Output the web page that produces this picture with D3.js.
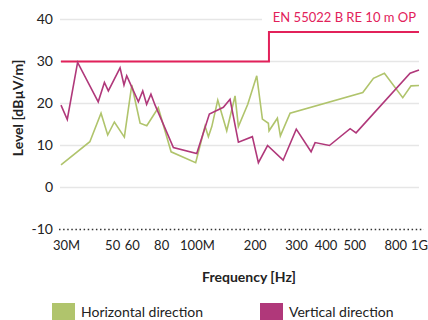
<!DOCTYPE html>
<html>
<head>
<meta charset="utf-8">
<script src="https://cdn.jsdelivr.net/npm/d3@7"></script>
<style>
  html, body { margin: 0; padding: 0; background: #fff; }
  svg { display: block; font-family: Lato, "Noto Sans", sans-serif; }
</style>
</head>
<body>
<svg id="chart" width="428" height="320"></svg>
<script>
// Radiated emission scan, 30 MHz – 1 GHz (frequencies in MHz, levels in dBµV/m)
const horizontalFreq = [30, 39.8, 44.4, 47.4, 50.6, 55.8, 60, 65.1, 69.5, 77.8, 88.2, 112.2, 123, 127.1, 131.4, 139.3, 152.1, 165, 170.5, 186.9, 204.1, 215.7, 228.7, 230.2, 249.8, 257.2, 282.9, 576.7, 640, 712.6, 853, 925, 1000];
const horizontalLevel = [5.4, 10.9, 17.7, 12.5, 15.6, 12.0, 24.4, 15.3, 14.7, 19.0, 8.5, 5.9, 14.6, 12.1, 14.5, 20.8, 13.5, 21.8, 14.5, 19.8, 26.6, 16.3, 15.3, 13.5, 16.5, 12.3, 17.7, 22.6, 26.0, 27.2, 21.4, 24.2, 24.3];

const verticalFreq = [30, 31.9, 35.3, 43.2, 45.9, 47.7, 53.5, 55.6, 57.1, 58.6, 64, 66.8, 69.4, 72.4, 75.4, 90.2, 113.4, 128.3, 147.2, 157.1, 170.5, 195.5, 207.4, 226.9, 264.2, 300.6, 347.5, 361.4, 415.9, 509.4, 539.8, 916.5, 1000];
const verticalLevel = [19.6, 16.2, 29.8, 20.4, 25.0, 23.0, 28.5, 24.4, 26.6, 25.2, 20.4, 23.0, 19.8, 22.2, 19.6, 9.5, 8.1, 17.5, 19.1, 21.0, 10.8, 12.1, 5.9, 10.0, 6.5, 13.9, 8.5, 10.7, 10.0, 14.0, 13.0, 27.2, 28.0];

// EN 55022 class B limit at 10 m (step at 230 MHz)
const limitFreq = [30, 230, 230, 1000];
const limitLevel = [30, 30, 37, 37];
const limitName = "EN 55022 B RE 10 m OP";

const xTickValues = [30, 50, 60, 80, 100, 200, 300, 400, 500, 800, 1000];
const xTickLabels = ["30M", "50", "60", "80", "100M", "200", "300", "400", "500", "800", "1G"];
const yTickValues = [-10, 0, 10, 20, 30, 40];

const seriesNames = ["Horizontal direction", "Vertical direction"];
const seriesColors = ["#b0c46c", "#b0387a"];
const limitColor = "#e2215a";

const svg = d3.select("#chart");

const x = d3.scaleLog().domain([30, 1000]).range([61, 419]);
const y = d3.scaleLinear().domain([-10, 40]).range([229.5, 19.5]);

// horizontal grid
svg.append("g")
  .selectAll("line")
  .data(yTickValues.filter(v => v > -10))
  .join("line")
  .attr("x1", 60).attr("x2", 419)
  .attr("y1", d => y(d)).attr("y2", d => y(d))
  .attr("stroke", "#e6e6e6")
  .attr("stroke-width", 1.5);

// dotted baseline at the bottom of the range
svg.append("line")
  .attr("x1", 59).attr("x2", 424)
  .attr("y1", y(-10)).attr("y2", y(-10))
  .attr("stroke", "#333")
  .attr("stroke-width", 1.5)
  .attr("stroke-dasharray", "1.5,2.6");

// y axis labels
const yAxis = d3.axisLeft(y).tickValues(yTickValues).tickSize(0).tickPadding(0)
  .tickFormat(d => d < 0 ? "-" + Math.abs(d) : d);
svg.append("g")
  .attr("transform", "translate(53,0)")
  .call(yAxis)
  .call(g => g.select(".domain").remove())
  .selectAll("text")
  .attr("font-family", "Lato, 'Noto Sans', sans-serif")
  .attr("font-size", 14)
  .attr("fill", "#222");

// x axis labels (a few wide labels shifted to keep them apart)
const labelShift = {30: 5, 50: -1, 60: 0, 100: 13, 500: 6, 800: -1};
const xAxis = d3.axisBottom(x).tickValues(xTickValues).tickSize(0).tickPadding(0)
  .tickFormat((d, i) => xTickLabels[i]);
svg.append("g")
  .attr("transform", "translate(0,241)")
  .call(xAxis)
  .call(g => g.select(".domain").remove())
  .selectAll("text")
  .attr("dx", d => labelShift[d] || 0)
  .attr("font-family", "Lato, 'Noto Sans', sans-serif")
  .attr("font-size", 13)
  .attr("fill", "#222");

// axis titles
svg.append("text")
  .attr("transform", "translate(23,108) rotate(-90)")
  .attr("text-anchor", "middle")
  .attr("font-size", 14)
  .attr("font-weight", "bold")
  .attr("fill", "#222")
  .text("Level [dBµV/m]");

svg.append("text")
  .attr("x", 249).attr("y", 282)
  .attr("text-anchor", "middle")
  .attr("font-size", 14)
  .attr("font-weight", "bold")
  .attr("fill", "#222")
  .text("Frequency [Hz]");

// limit label with white backing
const limitLabel = svg.append("g");
limitLabel.append("rect")
  .attr("x", 262).attr("y", 8).attr("width", 160).attr("height", 20)
  .attr("fill", "#fff");
limitLabel.append("text")
  .attr("x", 416).attr("y", 22)
  .attr("text-anchor", "end")
  .attr("font-size", 13)
  .attr("fill", limitColor)
  .text(limitName);

const line = d3.line().x(d => x(d[0])).y(d => y(d[1]));

// limit line
svg.append("path")
  .datum(d3.zip(limitFreq, limitLevel))
  .attr("d", line)
  .attr("fill", "none")
  .attr("stroke", limitColor)
  .attr("stroke-width", 2);

// measurement traces
const series = [
  d3.zip(horizontalFreq, horizontalLevel),
  d3.zip(verticalFreq, verticalLevel)
];
svg.append("g")
  .selectAll("path")
  .data(series)
  .join("path")
  .attr("d", line)
  .attr("fill", "none")
  .attr("stroke", (d, i) => seriesColors[i])
  .attr("stroke-width", 1.6)
  .attr("stroke-linejoin", "miter");

// legend
const legendX = [52, 260];
const legend = svg.append("g")
  .selectAll("g")
  .data(seriesNames)
  .join("g")
  .attr("transform", (d, i) => `translate(${legendX[i]},303)`);
legend.append("rect")
  .attr("width", 23).attr("height", 17)
  .attr("fill", (d, i) => seriesColors[i]);
legend.append("text")
  .attr("x", 29).attr("y", 14)
  .attr("font-size", 14)
  .attr("fill", "#222")
  .text(d => d);
</script>
</body>
</html>
